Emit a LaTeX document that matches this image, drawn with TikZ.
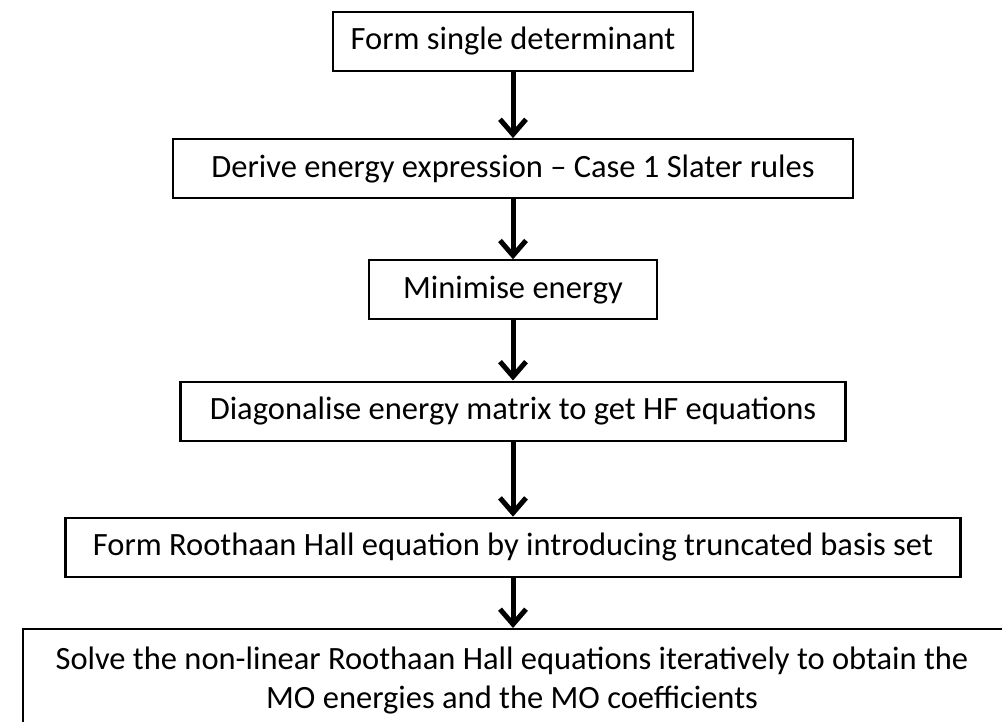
\documentclass[tikz,border=0pt]{standalone}
\usepackage{fontspec}
\setmainfont{Carlito}
\usetikzlibrary{positioning,arrows.meta}

\begin{document}
\begin{tikzpicture}[x=1pt, y=-1pt,
    font=\fontsize{32.5}{39}\selectfont,
    stage/.style={draw, line width=2.2pt, minimum height=59pt, inner sep=0pt},
    flow/.style={-{Straight Barb[length=15pt,width=26pt]}, line width=5pt}]
  \useasboundingbox (0,0) rectangle (1002,722);
  \node[stage, minimum width=360pt] (single) at (513,41.5) {Form single determinant};
  \node[stage, minimum width=680pt] (energy)   [below=66pt of single]   {Derive energy expression – Case 1 Slater rules};
  \node[stage, minimum width=288pt] (minimise) [below=60pt of energy]   {Minimise energy};
  \node[stage, minimum width=665pt] (diag)     [below=60pt of minimise] {Diagonalise energy matrix to get HF equations};
  \node[stage, minimum width=895pt] (roothaan) [below=75pt of diag]     {Form Roothaan Hall equation by introducing truncated basis set};
  \node[stage, anchor=north west, minimum width=1000pt, minimum height=200pt] (solveframe) at (22,628) {};
  \node[align=center] (solve) at (512,681)
    {Solve the non-linear Roothaan Hall equations iteratively to obtain the\\MO energies and the MO coefficients};
  \draw[flow] (single)   -- (energy);
  \draw[flow] (energy)   -- (minimise);
  \draw[flow] (minimise) -- (diag);
  \draw[flow] (diag)     -- (roothaan);
  \draw[flow] (roothaan) -- (roothaan.south |- solveframe.north);
\end{tikzpicture}
\end{document}
